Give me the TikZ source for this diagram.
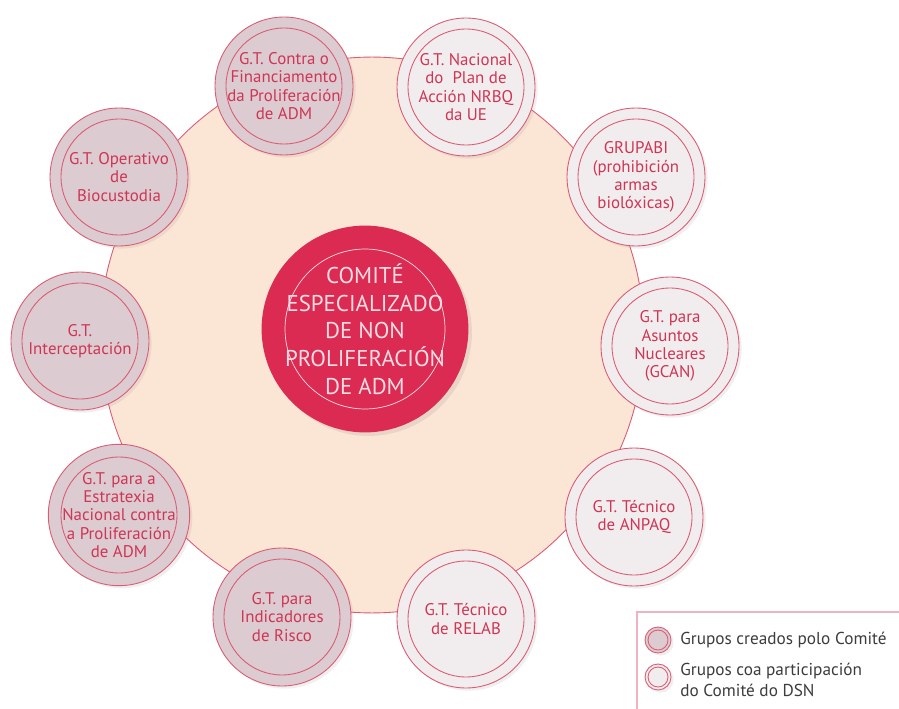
\documentclass[tikz,border=0pt]{standalone}
\usepackage{fontspec}
\setmainfont{PT Sans}
\usepackage{tikz}
\usetikzlibrary{positioning,shadows}
\definecolor{crimson}{HTML}{DC2B52}
\definecolor{rosetext}{HTML}{CF3555}
\definecolor{roseline}{HTML}{DB5B75}
\definecolor{beige}{HTML}{FBE5D5}
\definecolor{mauve}{HTML}{DCCBD0}
\definecolor{pale}{HTML}{F1EDEE}
\definecolor{blush}{HTML}{F8DDE4}
\definecolor{legline}{HTML}{EDB3C0}
\definecolor{legtextc}{HTML}{3C3C3C}

\begin{document}
\begin{tikzpicture}[x=0.02cm,y=-0.02cm,
  ring/.style={path picture={\draw[roseline,line width=0.5pt]
      (path picture bounding box.center) circle (#1);}},
  grp/.style={circle,draw=roseline,line width=0.5pt,minimum size=2.76cm,
      inner sep=0pt,align=center,text=rosetext,
      font=\fontsize{9.6}{10.4}\selectfont,ring=1.16cm,
      drop shadow={opacity=0.12,shadow xshift=1.5pt,shadow yshift=-1.5pt}},
  grpown/.style={grp,fill=mauve},
  grpdsn/.style={grp,fill=pale},
  legtext/.style={inner sep=0pt,align=left,text=legtextc,
      font=\fontsize{9.8}{11.6}\selectfont}]
  \useasboundingbox (0,0) rectangle (899,709);
  \clip (0,0) rectangle (899,709);
  \fill[white] (0,0) rectangle (899,709);
  % Background disc
  \draw[roseline,line width=0.5pt,fill=beige] (372,335)
       ellipse [x radius=5.44cm,y radius=5.56cm];
  % Committee
  \node[circle,fill=crimson,minimum size=3.8cm,inner sep=0pt,align=center,
        text=blush,font=\fontsize{13}{15.8}\selectfont,
        drop shadow={opacity=0.15,shadow xshift=2pt,shadow yshift=-2pt},
        path picture={\draw[blush,line width=0.4pt]
          (path picture bounding box.center) circle (1.6cm);}]
        (comite) at (365,329)
        {COMITÉ\\ESPECIALIZADO\\DE NON\\PROLIFERACIÓN\\DE ADM};
  % Working groups
  \node[grpown] (cgfin) at (284,86) {G.T. Contra o\\Financiamento\\da Proliferación\\de ADM};
  \node[grpdsn] (cgnrbq) at (466,87) {G.T. Nacional\\do\ \ Plan de\\Acción NRBQ\\da UE};
  \node[grpdsn] (cgrupabi) at (636,177) {GRUPABI\\(prohibición\\armas\\biolóxicas)};
  \node[grpdsn] (cgcan) at (670,346) {G.T. para\\Asuntos\\Nucleares\\(GCAN)};
  \node[grpdsn] (canpaq) at (634,517) {G.T. Técnico\\de ANPAQ};
  \node[grpdsn] (crelab) at (466,619) {G.T. Técnico\\de RELAB};
  \node[grpown] (cindic) at (282,617) {G.T. para\\Indicadores\\de Risco};
  \node[grpown] (cestrat) at (119,515) {G.T. para a\\Estratexia\\Nacional contra\\a Proliferación\\de ADM};
  \node[grpown] (cinterc) at (80,341) {G.T.\\Interceptación};
  \node[grpown] (cbiocus) at (119,177) {G.T. Operativo\\de\\Biocustodia};
  % Legend
  \draw[legline,line width=0.6pt] (637,612) rectangle (910,720);
  \node[grpown,minimum size=0.52cm,ring=0.2cm] (keyown) at (658,640) {};
  \node[legtext,anchor=west] (keyowntxt) at (680,640) {Grupos creados polo Comité};
  \node[grpdsn,minimum size=0.52cm,ring=0.2cm] (keydsn) at (658,677) {};
  \node[legtext,anchor=west] (keydsntxt) at (680,680) {Grupos coa participación\\do Comité do DSN};
\end{tikzpicture}
\end{document}
